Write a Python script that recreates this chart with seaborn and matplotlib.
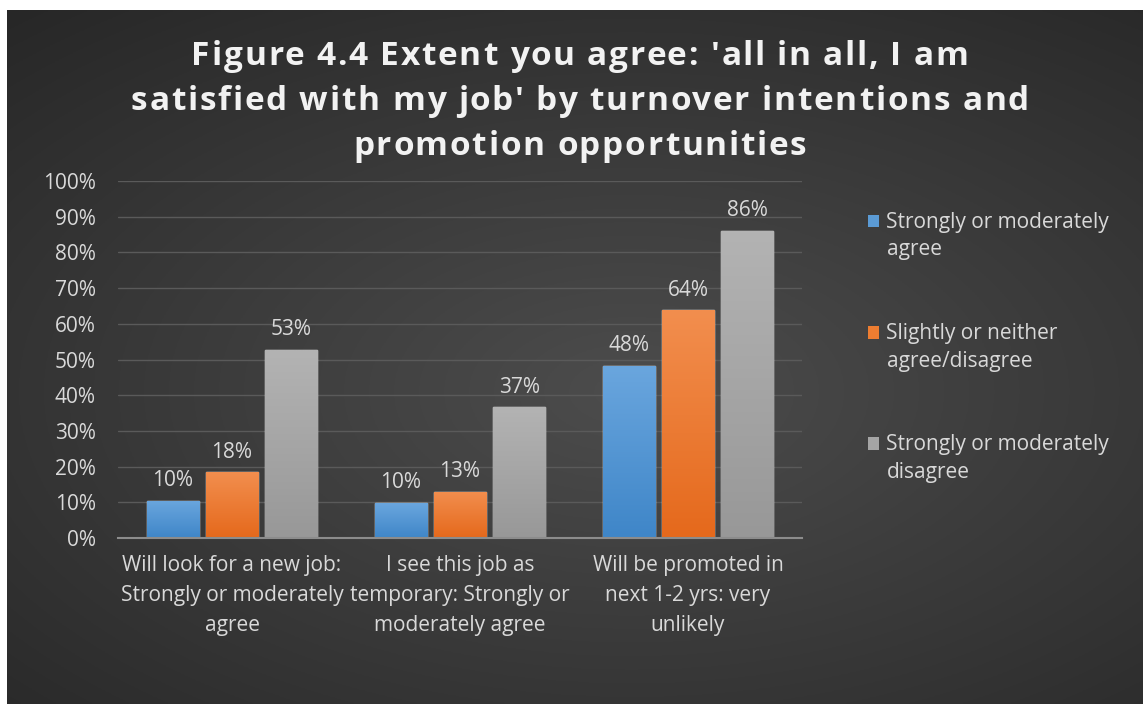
"""Figure 4.4 - job satisfaction by turnover intentions and promotion opportunities."""
import numpy as np
import pandas as pd
import matplotlib
matplotlib.use('Agg')
import matplotlib.pyplot as plt
from matplotlib.legend_handler import HandlerPatch
from matplotlib.patches import Rectangle
from matplotlib.font_manager import FontProperties
import seaborn as sns

# data (shares, 0-1)
categories = ['Will look for a new job:\nStrongly or moderately\nagree',
              'I see this job as\ntemporary: Strongly or\nmoderately agree',
              'Will be promoted in\nnext 1-2 yrs: very\nunlikely']
series = ['Strongly or moderately\nagree',
          'Slightly or neither\nagree/disagree',
          'Strongly or moderately\ndisagree']
agree = [0.104, 0.098, 0.483]
neither = [0.184, 0.129, 0.638]
disagree = [0.526, 0.366, 0.860]
y_ticks = [0, 0.1, 0.2, 0.3, 0.4, 0.5, 0.6, 0.7, 0.8, 0.9, 1.0]
title_lines = ["Figure 4.4 Extent you agree: 'all in all, I am",
               "satisfied with my job' by turnover intentions and",
               "promotion opportunities"]

colors = ['#5B9BD5', '#ED7D31', '#A5A5A5']
tops = ['#6AA6DE', '#F28E4E', '#B3B3B3']
bottoms = ['#3F86C8', '#E5691C', '#989898']

df = pd.DataFrame({
    'category': categories * 3,
    'series': [series[0]] * 3 + [series[1]] * 3 + [series[2]] * 3,
    'value': agree + neither + disagree,
})

sns.set_style('dark')
plt.rcParams['font.family'] = ['Open Sans', 'DejaVu Sans']
text_col = '#D9D9D9'
fs = 15

fig = plt.figure(figsize=(11.43, 7.04), dpi=100, facecolor='white')
W, H = 1143, 704

# dark radial gradient background of the chart area
bg = fig.add_axes([7 / W, 0, 1 - 7 / W, 1 - 10 / H])
yy, xx = np.mgrid[0:1:300j, 0:1:500j]
r = np.sqrt(((xx - 0.55) / 0.9) ** 2 + ((yy - 0.45) / 0.8) ** 2)
shade = np.clip(0.30 - 0.16 * r, 0.14, 0.30)
bg.imshow(np.dstack([shade] * 3), aspect='auto', extent=(0, 1, 0, 1), origin='lower')
bg.set_axis_off()

ax = fig.add_axes([118 / W, 1 - 538 / H, 684 / W, 357 / H])
ax.patch.set_alpha(0)
sns.barplot(data=df, x='category', y='value', hue='series', palette=colors,
            width=0.78, gap=0.12, saturation=1, ax=ax, legend=True)

# vertical gradient fill for each bar
for cont, top, bot in zip(ax.containers, tops, bottoms):
    cmap = matplotlib.colors.LinearSegmentedColormap.from_list('g', [bot, top])
    for bar in cont:
        x0, y0 = bar.get_x(), bar.get_y()
        w, h = bar.get_width(), bar.get_height()
        im = ax.imshow(np.linspace(0, 1, 100).reshape(-1, 1), cmap=cmap, aspect='auto',
                       extent=(x0, x0 + w, y0, y0 + h), origin='lower', zorder=bar.get_zorder())
        im.set_clip_path(bar)
    ax.bar_label(cont, labels=[f'{v:.0%}' for v in cont.datavalues], padding=7,
                 color=text_col, fontsize=fs)

ax.set_xlim(-0.5, 2.5)
ax.set_ylim(0, 1)
ax.set_yticks(y_ticks)
ax.set_yticklabels([f'{t:.0%}' for t in y_ticks])
ax.yaxis.grid(True, color='#5A5A5A', lw=1)
ax.xaxis.grid(False)
ax.set_axisbelow(True)
ax.tick_params(axis='both', colors=text_col, labelsize=fs, length=0)
ax.tick_params(axis='y', pad=16)
ax.tick_params(axis='x', pad=12)
for lab in ax.get_xticklabels():
    lab.set_linespacing(1.58)
for side in ['top', 'right', 'left']:
    ax.spines[side].set_visible(False)
ax.spines['bottom'].set_color('#8C8C8C')
ax.spines['bottom'].set_linewidth(1.5)
ax.set_xlabel('')
ax.set_ylabel('')


class TopSquare(HandlerPatch):
    """Legend square lined up with the first line of a two-line label."""
    def create_artists(self, legend, orig_handle, xdescent, ydescent, width, height,
                       fontsize, trans):
        p = Rectangle((-xdescent, -ydescent + 0.75 * fontsize), width, height,
                      facecolor=orig_handle.get_facecolor(), edgecolor='none',
                      transform=trans)
        return [p]


handles, labels = ax.get_legend_handles_labels()
ax.get_legend().remove()
leg = fig.legend(handles, labels, loc='upper left', bbox_to_anchor=(849 / W, 1 - 193 / H),
                 frameon=False, fontsize=fs, labelcolor=text_col, handlelength=0.55,
                 handleheight=0.55, handletextpad=0.35, labelspacing=3.0,
                 handler_map={h: TopSquare() for h in handles})
for t in leg.get_texts():
    t.set_linespacing(1.42)

# title with letter spacing (drawn char by char)
renderer = fig.canvas.get_renderer()
tprop = FontProperties(family=['Open Sans', 'DejaVu Sans'], weight='bold', size=24)
extra = 1.8  # px between letters


def text_w(s):
    return renderer.get_text_width_height_descent(s, tprop, ismath=False)[0]


for line, base in zip(title_lines, [65, 110, 155]):
    lefts = [text_w(line[:i] + 'x') - text_w('x') + i * extra for i in range(len(line))]
    total = text_w(line) + (len(line) - 1) * extra
    x_start = 580 - total / 2
    for ch, lx in zip(line, lefts):
        if ch != ' ':
            fig.text((x_start + lx) / W, 1 - base / H, ch, fontproperties=tprop,
                     color='#F2F2F2', ha='left', va='baseline')

fig.savefig('out.png', dpi=100, facecolor=fig.get_facecolor())
